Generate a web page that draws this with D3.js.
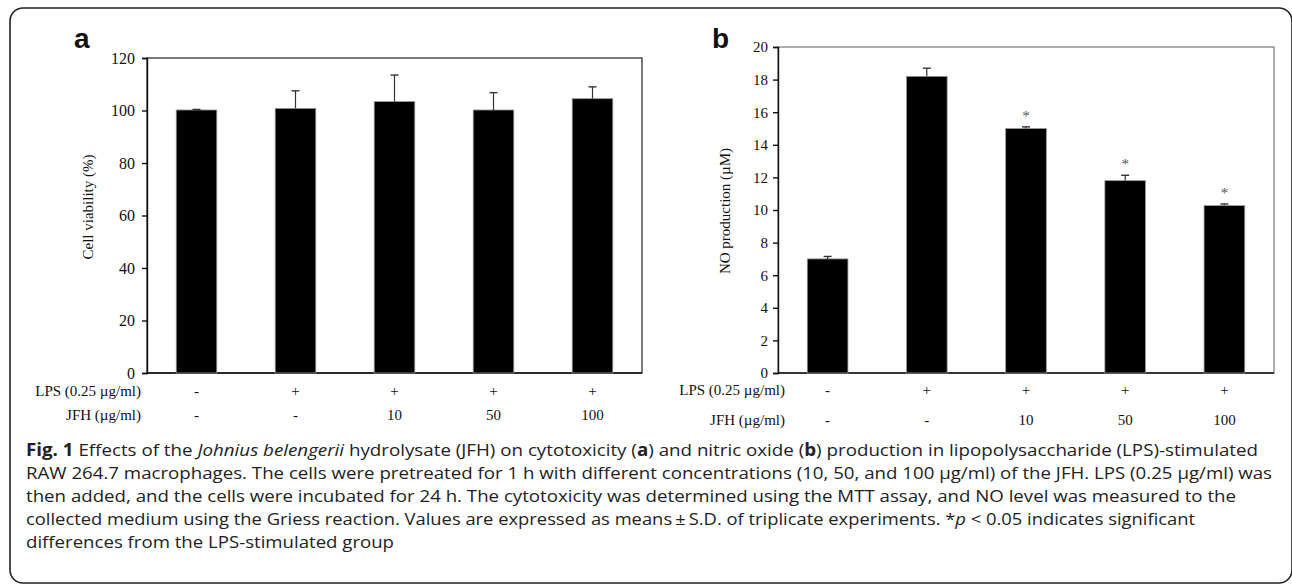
<!DOCTYPE html>
<html>
<head>
<meta charset="utf-8">
<script src="https://cdn.jsdelivr.net/npm/d3@7"></script>
<style>
  body { margin: 0; background: #fff; }
  svg { display: block; }
  .serif { font-family: "Liberation Serif", "Times New Roman", serif; }
</style>
</head>
<body>
<svg width="1292" height="586"></svg>
<script>
const groups = ['Control', 'LPS', 'LPS+JFH10', 'LPS+JFH50', 'LPS+JFH100'];
const lpsRow = ['-', '+', '+', '+', '+'];
const jfhRow = ['-', '-', '10', '50', '100'];

const viability = [100.2, 100.8, 103.4, 100.2, 104.5];
const viabilitySD = [0.2, 6.7, 10.1, 6.6, 4.5];
const viabilityTicks = [0, 20, 40, 60, 80, 100, 120];

const noProduction = [7.0, 18.2, 15.0, 11.8, 10.27];
const noSD = [0.15, 0.5, 0.1, 0.33, 0.1];
const noSignificant = [false, false, true, true, true];
const noTicks = [0, 2, 4, 6, 8, 10, 12, 14, 16, 18, 20];

const captionLines = [
  [['Fig. 1', 'b'], [' Effects of the ', ''], ['Johnius belengerii', 'i'], [' hydrolysate (JFH) on cytotoxicity (', ''], ['a', 'b'], [') and nitric oxide (', ''], ['b', 'b'], [') production in lipopolysaccharide (LPS)-stimulated', '']],
  [['RAW 264.7 macrophages. The cells were pretreated for 1 h with different concentrations (10, 50, and 100 \u00b5g/ml) of the JFH. LPS (0.25 \u00b5g/ml) was', '']],
  [['then added, and the cells were incubated for 24 h. The cytotoxicity was determined using the MTT assay, and NO level was measured to the', '']],
  [['collected medium using the Griess reaction. Values are expressed as means\u2009\u00b1\u2009S.D. of triplicate experiments. *', ''], ['p', 'i'], [' < 0.05 indicates significant', '']],
  [['differences from the LPS-stimulated group', '']]
];
// right-justified widths of the full lines; the last line keeps its natural width
const captionWidths = [1232, 1246, 1210, 1169, null];

const svg = d3.select('svg');

// outer frame
svg.append('rect')
  .attr('x', 10).attr('y', 8)
  .attr('width', 1282).attr('height', 575)
  .attr('rx', 13)
  .attr('fill', 'none')
  .attr('stroke', '#222')
  .attr('stroke-width', 1.6);

const drawPanel = (cfg) => {
  const g = svg.append('g');
  const x = d3.scaleBand()
    .domain(groups)
    .range([cfg.left, cfg.right])
    .paddingInner(0.59)
    .paddingOuter(0.295);
  const y = d3.scaleLinear()
    .domain([0, d3.max(cfg.ticks)])
    .range([cfg.bottom, cfg.top]);

  // plot box
  g.append('rect')
    .attr('x', cfg.left).attr('y', cfg.top)
    .attr('width', cfg.right - cfg.left).attr('height', cfg.bottom - cfg.top)
    .attr('fill', 'none')
    .attr('stroke', cfg.boxColor)
    .attr('stroke-width', 1.2);

  const yAxis = g.append('g')
    .attr('transform', `translate(${cfg.left},0)`)
    .call(d3.axisLeft(y).tickValues(cfg.ticks).tickSize(5).tickPadding(cfg.pad));
  yAxis.selectAll('text').attr('class', 'serif').attr('font-size', cfg.tickFont).attr('fill', '#111');
  yAxis.selectAll('line, path').attr('stroke', '#111').attr('stroke-width', 1.4);

  g.append('line')
    .attr('x1', cfg.left).attr('x2', cfg.right)
    .attr('y1', cfg.bottom).attr('y2', cfg.bottom)
    .attr('stroke', '#111').attr('stroke-width', 1.6);

  g.selectAll('rect.bar').data(cfg.values)
    .enter().append('rect')
    .attr('class', 'bar')
    .attr('x', (d, i) => x(groups[i]))
    .attr('y', d => y(d))
    .attr('width', x.bandwidth())
    .attr('height', d => y(0) - y(d))
    .attr('fill', '#000')
    .attr('stroke', '#999')
    .attr('stroke-width', 0.8);

  const cx = i => x(groups[i]) + x.bandwidth() / 2;
  const err = g.selectAll('g.err').data(cfg.values)
    .enter().append('g').attr('class', 'err');
  err.append('line')
    .attr('x1', (d, i) => cx(i)).attr('x2', (d, i) => cx(i))
    .attr('y1', d => y(d)).attr('y2', (d, i) => y(d + cfg.sd[i]))
    .attr('stroke', '#333').attr('stroke-width', 1.2);
  err.append('line')
    .attr('x1', (d, i) => cx(i) - 4).attr('x2', (d, i) => cx(i) + 4)
    .attr('y1', (d, i) => y(d + cfg.sd[i])).attr('y2', (d, i) => y(d + cfg.sd[i]))
    .attr('stroke', '#333').attr('stroke-width', 1.4);

  if (cfg.sig) {
    g.selectAll('text.sig').data(cfg.values)
      .enter().append('text')
      .attr('class', 'sig serif')
      .attr('x', (d, i) => cx(i))
      .attr('y', (d, i) => y(d + cfg.sd[i]) - 6)
      .attr('text-anchor', 'middle')
      .attr('font-size', 15)
      .attr('fill', '#555')
      .text((d, i) => cfg.sig[i] ? '*' : '');
  }

  // y title
  g.append('text')
    .attr('class', 'serif')
    .attr('transform', `translate(${cfg.titleX},${cfg.titleY}) rotate(-90)`)
    .attr('text-anchor', 'middle')
    .attr('dominant-baseline', 'middle')
    .attr('font-size', 15)
    .attr('fill', '#111')
    .text(cfg.yTitle);

  // treatment rows
  const rows = [['LPS (0.25 \u00b5g/ml)', lpsRow, cfg.rowY[0]], ['JFH (\u00b5g/ml)', jfhRow, cfg.rowY[1]]];
  rows.forEach(([label, vals, ry]) => {
    g.append('text')
      .attr('class', 'serif')
      .attr('x', cfg.rowLabelX).attr('y', ry)
      .attr('text-anchor', 'end')
      .attr('dominant-baseline', 'middle')
      .attr('font-size', 15)
      .attr('fill', '#111')
      .text(label);
    g.selectAll(null).data(vals)
      .enter().append('text')
      .attr('class', 'serif')
      .attr('x', (d, i) => cx(i)).attr('y', ry)
      .attr('text-anchor', 'middle')
      .attr('dominant-baseline', 'middle')
      .attr('font-size', 15)
      .attr('fill', '#111')
      .text(d => d);
  });

  // panel letter
  g.append('text')
    .attr('x', cfg.letterX).attr('y', 48)
    .attr('font-family', 'Liberation Sans, Arial, sans-serif')
    .attr('font-weight', 'bold')
    .attr('font-size', 28)
    .attr('fill', '#111')
    .text(cfg.letter);
};

drawPanel({
  letter: 'a', letterX: 74,
  left: 147, right: 642, top: 58, bottom: 373,
  values: viability, sd: viabilitySD, ticks: viabilityTicks,
  boxColor: '#222', pad: 7, tickFont: 16,
  yTitle: 'Cell viability (%)', titleX: 90, titleY: 207,
  rowLabelX: 141, rowY: [393, 417]
});

drawPanel({
  letter: 'b', letterX: 712,
  left: 778, right: 1274, top: 47, bottom: 373,
  values: noProduction, sd: noSD, ticks: noTicks, sig: noSignificant,
  boxColor: '#777', pad: 5, tickFont: 15,
  yTitle: 'NO production (\u00b5M)', titleX: 727, titleY: 211,
  rowLabelX: 785, rowY: [392, 422]
});

// caption
const captionTexts = captionLines.map((segs, li) => {
  const t = svg.append('text')
    .attr('x', 26)
    .attr('y', 456 + li * 23)
    .attr('font-family', 'Open Sans, sans-serif')
    .attr('font-size', 17)
    .attr('fill', '#222');
  segs.forEach(([s, style]) => {
    t.append('tspan')
      .attr('font-weight', style === 'b' ? 'bold' : null)
      .attr('font-style', style === 'i' ? 'italic' : null)
      .text(s);
  });
  return t;
});
const natural = captionTexts.map(t => t.node().getComputedTextLength());
const ratio = d3.mean(captionWidths.slice(0, 4), (w, i) => w / natural[i]);
captionTexts.forEach((t, i) => {
  t.attr('textLength', captionWidths[i] || natural[i] * ratio)
    .attr('lengthAdjust', 'spacingAndGlyphs');
});
</script>
</body>
</html>
